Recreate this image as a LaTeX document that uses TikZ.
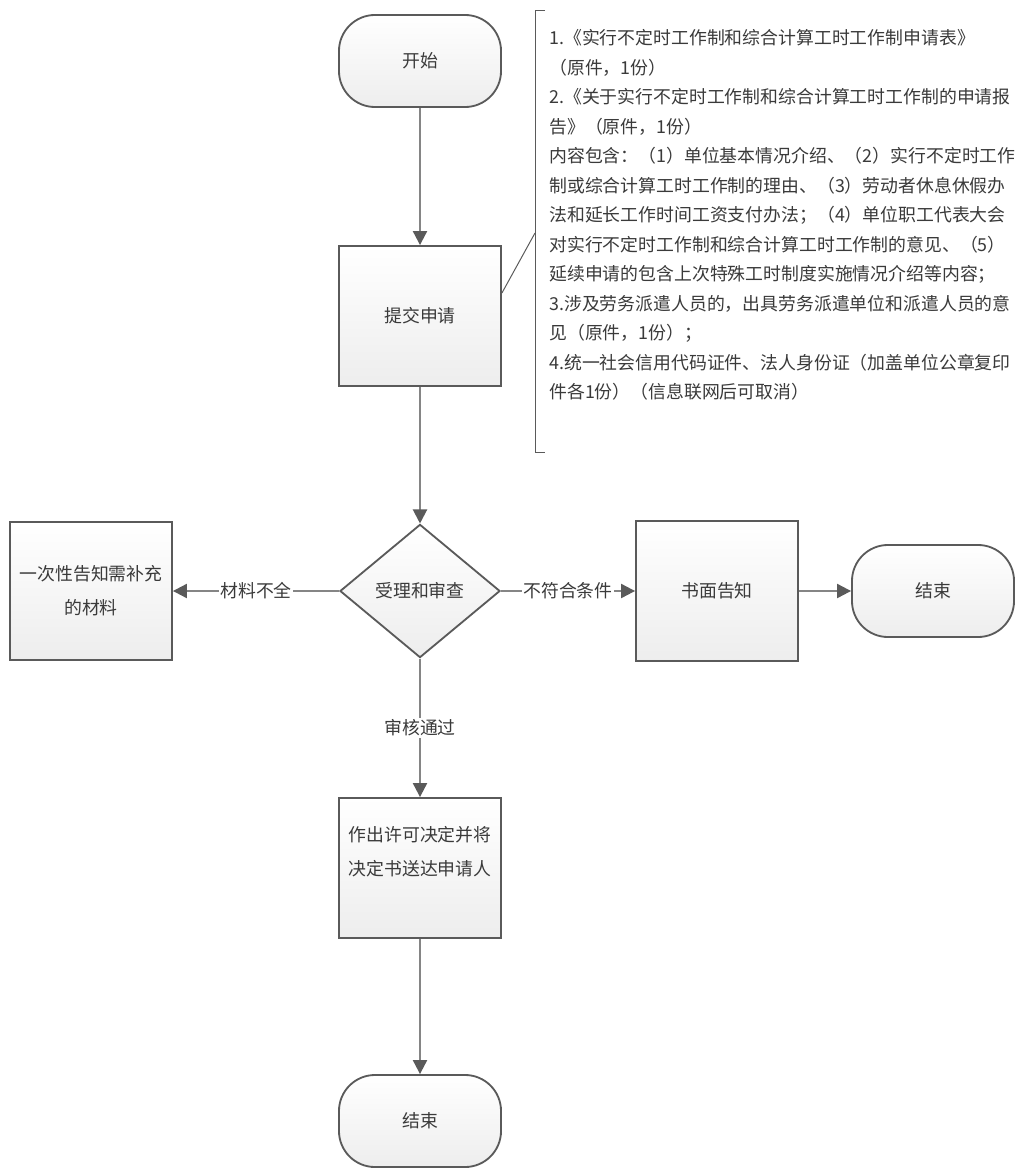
\documentclass[tikz,border=0pt]{standalone}
\usepackage{fontspec}
\setmainfont{Noto Sans CJK SC}
\usetikzlibrary{shapes.geometric, arrows.meta}

\definecolor{edgegray}{HTML}{5A5A5A}
\definecolor{linegray}{HTML}{858585}
\definecolor{textgray}{HTML}{3A3A3A}

\begin{document}
\begin{tikzpicture}[x=0.025cm, y=-0.025cm,
  box/.style={draw=edgegray, line width=1.3pt, rectangle, top color=white,
    bottom color=gray!14, minimum width=4.05cm, minimum height=3.5cm,
    align=center, text=textgray, font=\fontsize{12.7pt}{24pt}\selectfont, inner sep=2pt},
  term/.style={box, rounded corners=0.9cm, minimum height=2.3cm},
  decision/.style={box, diamond, minimum width=4cm, minimum height=3.33cm, inner sep=0pt},
  arrow/.style={draw=linegray, line width=1.5pt,
    -{Triangle[length=10pt, width=10pt, color=edgegray]}},
  lbl/.style={fill=white, inner sep=1pt, text=textgray, font=\fontsize{12.7pt}{16pt}\selectfont},
  notel/.style={draw=edgegray, line width=0.7pt},
  note/.style={align=left, inner sep=0pt, anchor=west, text=textgray,
    font=\fontsize{12.7pt}{21pt}\selectfont}
]
\fill[white] (0,0) rectangle (1025,1169);
\useasboundingbox (0,0) rectangle (1025,1169);

\node[term] (start) at (420,61) {开始};
\node[box] (submit) at (420,316) {提交申请};
\node[decision] (check) at (420,591) {受理和审查};
\node[box, minimum height=3.43cm] (supply) at (91,591) {一次性告知需补充\\的材料};
\node[box] (notify) at (717,591) {书面告知};
\node[term] (endr) at (933,591) {结束};
\node[box] (permit) at (420,868) {作出许可决定并将\\决定书送达申请人\\ \mbox{}};
\node[term] (endb) at (420,1121) {结束};

% materials list
\node[note] (docs) at (549,215) {1.《实行不定时工作制和综合计算工时工作制申请表》\\
（原件，1份）\\
2.《关于实行不定时工作制和综合计算工时工作制的申请报\\
告》（原件，1份）\\
内容包含：（1）单位基本情况介绍、（2）实行不定时工作\\
制或综合计算工时工作制的理由、（3）劳动者休息休假办\\
法和延长工作时间工资支付办法；（4）单位职工代表大会\\
对实行不定时工作制和综合计算工时工作制的意见、（5）\\
延续申请的包含上次特殊工时制度实施情况介绍等内容；\\
3.涉及劳务派遣人员的，出具劳务派遣单位和派遣人员的意\\
见（原件，1份）；\\
4.统一社会信用代码证件、法人身份证（加盖单位公章复印\\
件各1份）（信息联网后可取消）};
\draw[notel] (545,10) -- (535,10) -- (535,452) -- (545,452);
\coordinate (notein) at (535,233);
\draw[notel] ([yshift=0.575cm]submit.east) -- (notein);

\draw[arrow] (start) -- (submit);
\draw[arrow] (submit) -- (check);
\draw[arrow] (check) -- node[lbl] {材料不全} (supply);
\draw[arrow] (check) -- node[lbl] {不符合条件} (notify);
\draw[arrow] (notify) -- (endr);
\draw[arrow] (check) -- node[lbl] {审核通过} (permit);
\draw[arrow] (permit) -- (endb);
\end{tikzpicture}
\end{document}
